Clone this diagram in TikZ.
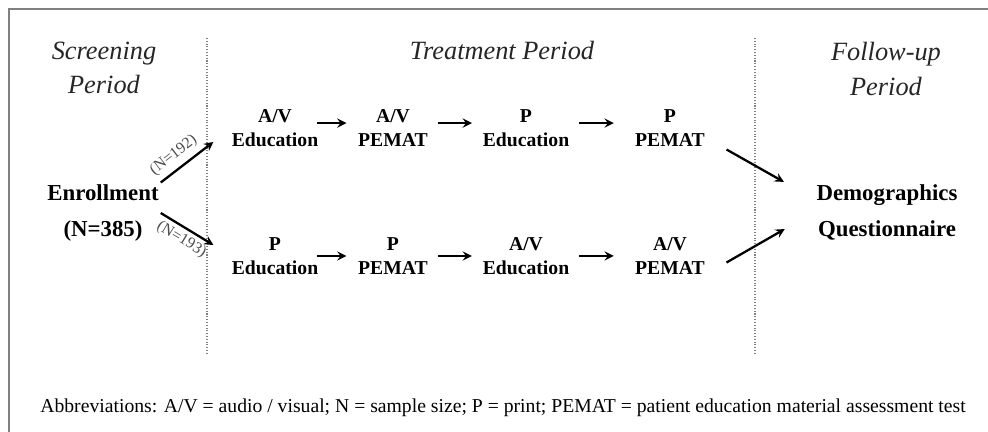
\documentclass[tikz,border=0pt]{standalone}
\usepackage{fontspec}
\setmainfont{Liberation Serif}
\usetikzlibrary{positioning}

\begin{document}
\begin{tikzpicture}[->, >=stealth, x=0.02cm, y=-0.02cm, node distance=2.56cm]
    \tikzset{
        arm/.style     = {font=\fontsize{11.2}{13.6}\selectfont\bfseries, align=center, inner sep=0pt},
        main/.style    = {font=\fontsize{13}{20.5}\selectfont\bfseries, align=center, inner sep=1pt},
        period/.style  = {font=\fontsize{15}{19.8}\selectfont\itshape, align=center, text=black!85},
        count/.style   = {font=\fontsize{9}{10}\selectfont, text=black!70, sloped, inner sep=1pt},
        note/.style    = {font=\fontsize{11.2}{13}\selectfont, anchor=west, inner sep=0pt},
        flow/.style    = {line width=1.3pt},
        divider/.style = {-, gray, densely dotted, line width=0.6pt},
        frame/.style   = {-, gray, line width=1.2pt}
    }
    \useasboundingbox (0,0) rectangle (988,432);
    \draw[frame] (9,432) -- (9,9) -- (988,9);
    \draw[divider] (207,38) -- (207,355);
    \draw[divider] (755,38) -- (755,355);

    % period headings
    \node[period] (SP) at (104,68) {Screening\\Period};
    \node[period] (TP) at (502,50) {Treatment Period};
    \node[period] (FP) at (886,69) {Follow-up\\Period};

    \node[main] (ENR) at (103,213) {Enrollment\\(N=385)};
    \node[main] (DQ) at (887,212) {Demographics\\Questionnaire};

    % first arm
    \node[arm] (AVE1) at (275,128) {A/V\\Education};
    \node[arm] (AVP1) at (393,128) {A/V\\PEMAT};
    \node[arm] (PE1)  at (526,128) {P\\Education};
    \node[arm] (PP1)  at (670,128) {P\\PEMAT};
    % second arm
    \node[arm, below of = AVE1] (PE2)  {P\\Education};
    \node[arm, below of = AVP1] (PP2)  {P\\PEMAT};
    \node[arm, below of = PE1]  (AVE2) {A/V\\Education};
    \node[arm, below of = PP1]  (AVP2) {A/V\\PEMAT};

    \draw[flow, shorten <=-1pt, shorten >=6.5pt] ([yshift=2.8pt]AVE1.east) -- ([yshift=2.8pt]AVP1.west);
    \draw[flow, shorten <=5.5pt, shorten >=6pt] ([yshift=2.8pt]AVP1.east) -- ([yshift=2.8pt]PE1.west);
    \draw[flow, shorten <=5.5pt, shorten >=12pt] ([yshift=2.8pt]PE1.east) -- ([yshift=2.8pt]PP1.west);
    \draw[flow, shorten <=-1pt, shorten >=6.5pt] (PE2) -- (PP2);
    \draw[flow, shorten <=5.5pt, shorten >=6pt] (PP2) -- (AVE2);
    \draw[flow, shorten <=5.5pt, shorten >=12pt] (AVE2) -- (AVP2);

    \draw[flow, shorten >=13pt] (ENR.north east) to node[count, pos=.3, above=2pt]{(N=192)} (AVE1.west);
    \draw[flow, shorten >=12pt] (ENR.east) to node[count, pos=.38, below=1pt]{(N=193)} (PE2.west);
    \draw[flow, shorten <=14pt, shorten >=20pt] (PP1.-15) to (DQ.170);
    \draw[flow, shorten <=14pt, shorten >=19.5pt] (AVP2.south east) to (DQ.west);

    \node[note] (ABBR) at (40,408) {Abbreviations: A/V = audio / visual; N = sample size; P = print; PEMAT = patient education material assessment test};
\end{tikzpicture}
\end{document}
